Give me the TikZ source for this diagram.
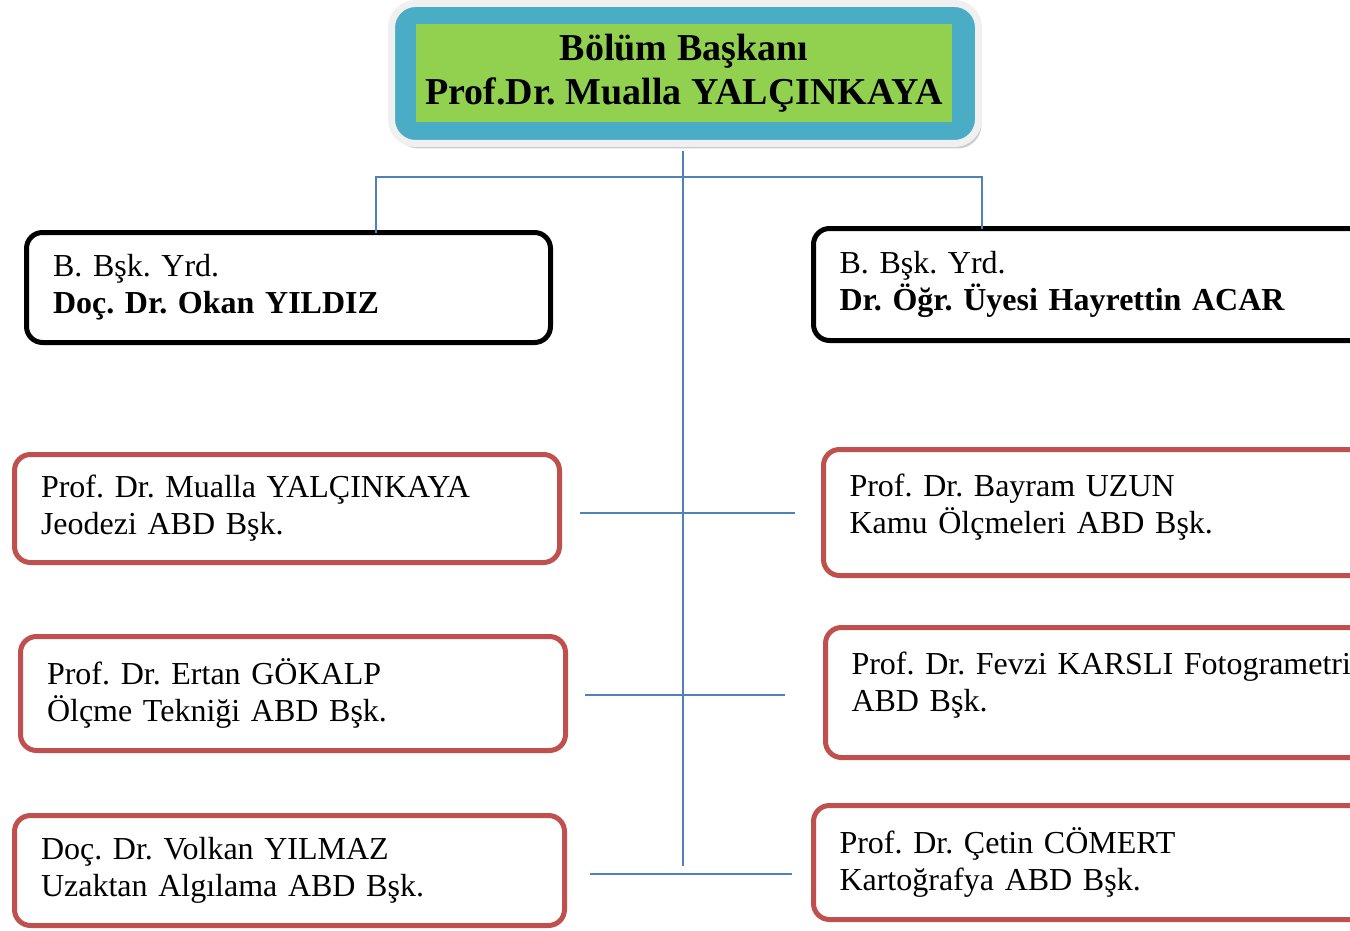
\documentclass[tikz,border=0pt]{standalone}
\usepackage{fontspec}
\setmainfont{Liberation Serif}
\usetikzlibrary{positioning, calc, shadows}
\definecolor{headblue}{HTML}{4BACC6}
\definecolor{headgreen}{HTML}{92D050}
\definecolor{abdred}{HTML}{C0504D}
\definecolor{linkblue}{HTML}{4F81BD}
\frenchspacing

\begin{document}
\begin{tikzpicture}[
    x=1pt, y=-1pt,
    headcase/.style={rectangle, rounded corners=24pt, fill=headblue, draw=black!6, line width=7pt, outer sep=0pt, minimum width=587pt, minimum height=140pt, drop shadow={shadow xshift=3pt, shadow yshift=-5pt, fill=black!40}},
    headbox/.style={rectangle, fill=headgreen, minimum width=536pt, minimum height=98pt, align=center, inner sep=0pt, font=\fontsize{38}{44}\selectfont\bfseries},
    yrdbox/.style={rectangle, rounded corners=16pt, draw=black, line width=5pt, outer sep=0pt, inner xsep=26pt, align=left, font=\fontsize{32}{37}\selectfont},
    abdbox/.style={yrdbox, draw=abdred},
    link/.style={draw=linkblue, line width=2pt}
]
\useasboundingbox (0,0) rectangle (1350,931);
\clip (0,0) rectangle (1350,931);

% Nodes
\node (bskcase) [headcase] at (685,73.5) {};
\node (bsk) [headbox] at (684,73) {Bölüm Başkanı\\Prof.Dr. Mualla YALÇINKAYA};

\node (yrdokan) [yrdbox, minimum width=524pt, minimum height=110pt, text width=471pt] at (288.5,287.5) {B. Bşk. Yrd.\\\textbf{Doç. Dr. Okan YILDIZ}};
\node (yrdacar) [yrdbox, anchor=west, minimum height=112pt, text width=520pt] at (813.5,284.5) {B. Bşk. Yrd.\\\textbf{Dr. Öğr. Üyesi Hayrettin ACAR}};

\node (jeo) [abdbox, minimum width=545pt, minimum height=108pt, text width=492pt] at (287,508.5) {Prof. Dr. Mualla YALÇINKAYA\\Jeodezi ABD Bşk.};
\node (olcme) [abdbox, minimum width=545pt, minimum height=114pt, text width=492pt] at (293,693.5) {Prof. Dr. Ertan GÖKALP\\Ölçme Tekniği ABD Bşk.};
\node (uzaktan) [abdbox, minimum width=550pt, minimum height=110pt, text width=497pt] at (289.5,870.5) {Doç. Dr. Volkan YILMAZ\\Uzaktan Algılama ABD Bşk.};

\node (kamu) [abdbox, anchor=west, minimum height=126pt, text width=520pt, text depth=55pt] at (823.5,512.5) {Prof. Dr. Bayram UZUN\\Kamu Ölçmeleri ABD Bşk.};
\node (foto) [abdbox, anchor=west, minimum height=130pt, text width=520pt, text depth=59pt] at (825.5,692.5) {Prof. Dr. Fevzi KARSLI Fotogrametri\\ABD Bşk.};
\node (karto) [abdbox, anchor=west, minimum height=114pt, text width=520pt] at (813.5,862.5) {Prof. Dr. Çetin CÖMERT\\Kartoğrafya ABD Bşk.};

% Connectors
\coordinate (trunk) at (683,866);
\coordinate (forkL) at (376,177);
\coordinate (forkR) at (982,177);
\draw [link, shorten <=8pt] (bskcase.south -| trunk) -- (trunk);
\draw [link] (forkL |- yrdokan.north) -- (forkL) -- (forkR) -- (forkR |- yrdacar.north);

\coordinate (jeoend) at (580,513);
\coordinate (kamuend) at (795,513);
\coordinate (olcmeend) at (585,695);
\coordinate (fotoend) at (785,695);
\coordinate (uzaktanend) at (590,874);
\coordinate (kartoend) at (792,874);
\draw [link] (jeoend) -- (kamuend);
\draw [link] (olcmeend) -- (fotoend);
\draw [link] (uzaktanend) -- (kartoend);

\end{tikzpicture}
\end{document}
